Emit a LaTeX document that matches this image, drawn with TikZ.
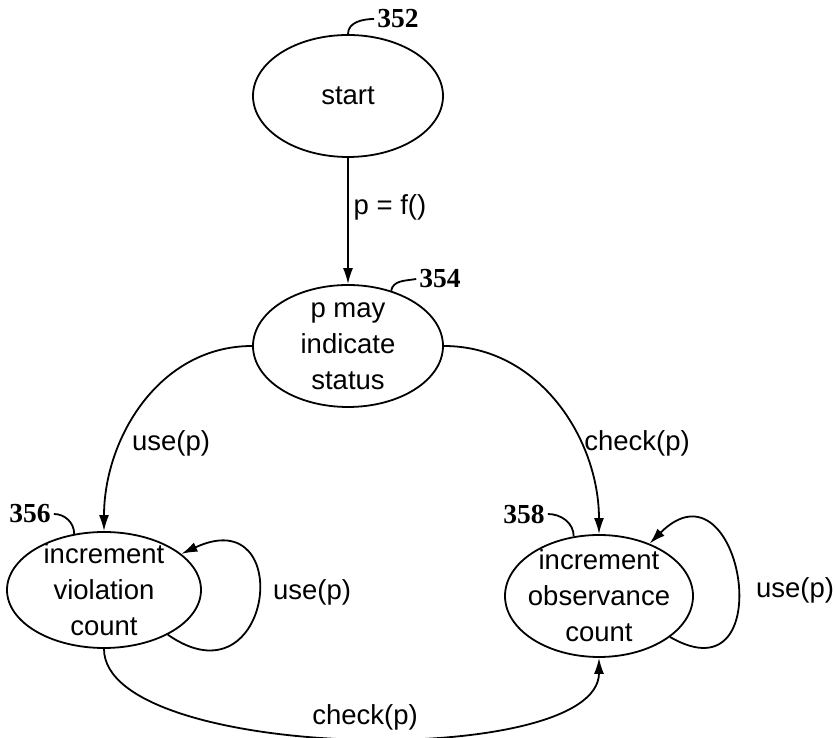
\documentclass[tikz,border=0pt]{standalone}
\usepackage{fontspec}
\setmainfont{Liberation Sans}
\newfontfamily\refserif{Liberation Serif}
\usetikzlibrary{arrows.meta,shapes}
\newcommand{\statefont}{\fontsize{27.5}{36}\selectfont}
\newcommand{\reffont}{\refserif\bfseries\fontsize{27.5}{30}\selectfont}
\tikzstyle{state}=[ellipse,draw,line width=1.8pt,inner sep=-8pt,align=center,font=\statefont]
\tikzstyle{edge} = [draw,line width=1.8pt,-{Latex[length=16pt,width=10pt]}]
\tikzstyle{leader} = [draw,line width=1.8pt]
\tikzstyle{refnum} = [font=\reffont,inner sep=3pt]
\tikzstyle{weight} = [font=\statefont,inner sep=0pt]

\begin{document}
\begin{tikzpicture}[x=1pt,y=1pt]
\useasboundingbox (0,0) rectangle (835,738);

% states
\node[state,minimum width=190pt,minimum height=122pt] (start) at (348,642) {start};
\node[state,minimum width=190pt,minimum height=122pt] (p354) at (348,392) {p may\\indicate\\status};
\node[state,minimum width=194pt,minimum height=116pt] (p356) at (104,148) {increment\\violation\\count};
\node[state,minimum width=188pt,minimum height=122pt] (p358) at (599,142) {increment\\observance\\count};

% transitions
\path[edge] (start) -- (p354);
\path[edge] (p354.west) to [out=180, in=90] (p356.north);
\path[edge] (p354.east) to [out=0, in=90] (p358.north);
\path[edge] (p356.-35) to [out=-35, in=25, looseness=4] (p356.25);
\path[edge] (p358.-30) to [out=-30, in=45, looseness=3.5] (p358.46);
\path[edge] (p356.south) to [out=-90, in=-90, looseness=0.58] (p358.south);

% transition labels
\foreach \pos/\name/\txt in {{(390,531)/lpf/{p = f()}}, {(171,295)/luse/{use(p)}}, {(637,295)/lcheck/{check(p)}}, {(312,146)/lloopv/{use(p)}}, {(795,148)/lloopo/{use(p)}}, {(365,21)/lbottom/{check(p)}}}
    \node[weight] (\name) at \pos {\txt};

% reference numbers
\foreach \pos/\name/\num in {{(398,719)/n352/352}, {(440,459)/n354/354}, {(30,224)/n356/356}, {(524,224)/n358/358}}
    \node[refnum] (\name) at \pos {\num};

\path[leader] (start.north) to [out=90, in=180] (n352.west);
\path[leader] (p354.52) to [out=80, in=190] (n354.west);
\path[leader] (n356.east) to [out=0, in=90] (p356.118);
\path[leader] (n358.east) to [out=0, in=90] (p358.113);

\end{tikzpicture}
\end{document}
